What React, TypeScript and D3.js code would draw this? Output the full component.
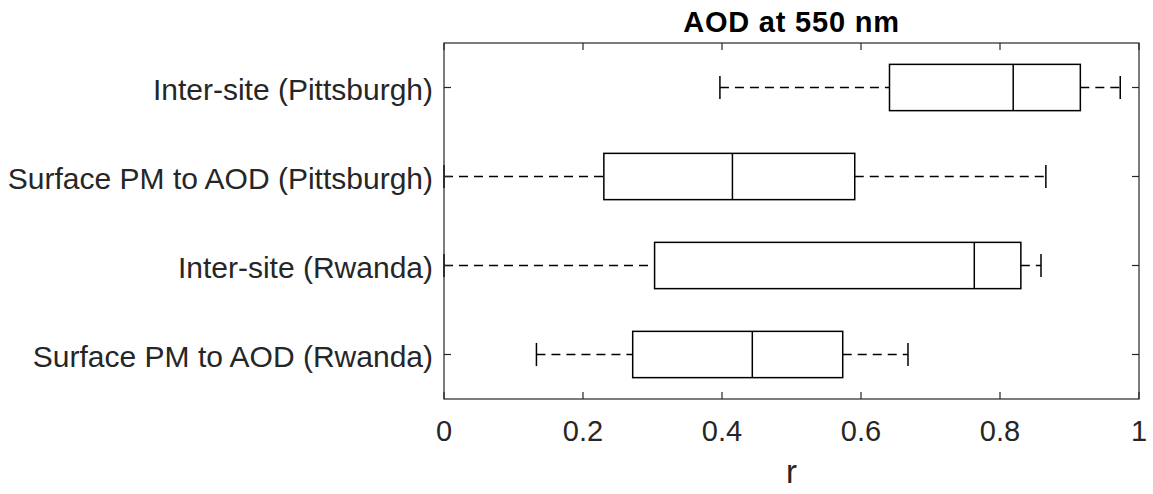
import React from "react";
import * as d3 from "d3";

const categories = [
  "Inter-site (Pittsburgh)",
  "Surface PM to AOD (Pittsburgh)",
  "Inter-site (Rwanda)",
  "Surface PM to AOD (Rwanda)",
];
const whiskerLow = [0.397, 0.0, 0.0, 0.133];
const q1 = [0.641, 0.23, 0.303, 0.2715];
const median = [0.819, 0.415, 0.763, 0.4436];
const q3 = [0.9156, 0.591, 0.830, 0.5737];
const whiskerHigh = [0.973, 0.866, 0.859, 0.6676];
const xTicks = [0, 0.2, 0.4, 0.6, 0.8, 1];
const xTickLabels = ["0", "0.2", "0.4", "0.6", "0.8", "1"];
const title = "AOD at 550 nm";
const xLabel = "r";

export default function App() {
  const W = 1153, H = 494;
  const left = 444, right = 1139, top = 43, bottom = 399;
  const x = d3.scaleLinear().domain([0, 1]).range([left, right]);
  const n = categories.length;
  const y = d3.scaleLinear().domain([0.5, n + 0.5]).range([bottom, top]);
  const pos = (i: number) => y(n - i);
  const bandPx = Math.abs(y(1) - y(0));
  const boxH = bandPx * 0.52;
  const capH = boxH / 2;
  const font = "'Liberation Sans', Arial, Helvetica, sans-serif";
  const textColor = "#262626";
  const axisColor = "#262626";
  const tickLen = 7;
  return (
    <svg width={W} height={H} style={{ position: "absolute", left: 0, top: 0 }} fontFamily={font}>
      <rect x={0} y={0} width={W} height={H} fill="#fff" />
      {categories.map((c, i) => {
        const cy = pos(i);
        return (
          <g key={c} stroke="#000" strokeWidth={1.5} fill="none">
            <line x1={x(whiskerLow[i])} x2={x(q1[i])} y1={cy} y2={cy} strokeDasharray="9,6" />
            <line x1={x(q3[i])} x2={x(whiskerHigh[i])} y1={cy} y2={cy} strokeDasharray="9,6" />
            <line x1={x(whiskerLow[i])} x2={x(whiskerLow[i])} y1={cy - capH / 2} y2={cy + capH / 2} />
            <line x1={x(whiskerHigh[i])} x2={x(whiskerHigh[i])} y1={cy - capH / 2} y2={cy + capH / 2} />
            <rect x={x(q1[i])} y={cy - boxH / 2} width={x(q3[i]) - x(q1[i])} height={boxH} />
            <line x1={x(median[i])} x2={x(median[i])} y1={cy - boxH / 2} y2={cy + boxH / 2} />
          </g>
        );
      })}
      <rect x={left} y={top} width={right - left} height={bottom - top} fill="none" stroke={axisColor} strokeWidth={1.2} />
      {xTicks.map((t, i) => (
        <g key={"xt" + i}>
          <line x1={x(t)} x2={x(t)} y1={bottom} y2={bottom - tickLen} stroke={axisColor} strokeWidth={1.2} />
          <line x1={x(t)} x2={x(t)} y1={top} y2={top + tickLen} stroke={axisColor} strokeWidth={1.2} />
          <text x={x(t)} y={441} textAnchor="middle" fontSize={29} fill={textColor}>{xTickLabels[i]}</text>
        </g>
      ))}
      {categories.map((c, i) => (
        <g key={"yt" + i}>
          <line x1={left} x2={left + tickLen} y1={pos(i)} y2={pos(i)} stroke={axisColor} strokeWidth={1.2} />
          <line x1={right} x2={right - tickLen} y1={pos(i)} y2={pos(i)} stroke={axisColor} strokeWidth={1.2} />
          <text x={433} y={pos(i) + 12} textAnchor="end" fontSize={30} fill={textColor}>{c}</text>
        </g>
      ))}
      <text x={(left + right) / 2} y={32} textAnchor="middle" fontSize={29} fontWeight="bold" letterSpacing={0.8} fill="#000">{title}</text>
      <text x={(left + right) / 2} y={483} textAnchor="middle" fontSize={33} fill={textColor}>{xLabel}</text>
    </svg>
  );
}
